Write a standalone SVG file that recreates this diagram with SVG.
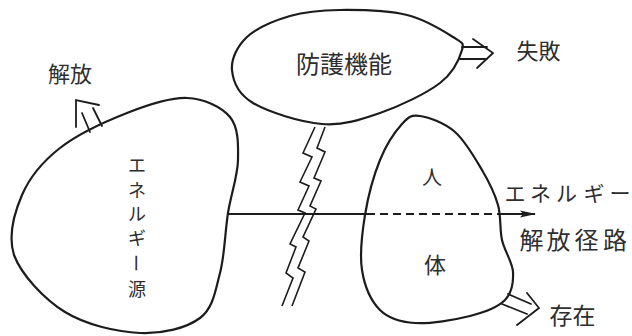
<svg xmlns="http://www.w3.org/2000/svg" width="632" height="336" viewBox="0 0 632 336">
<defs>
<style>
.blob{fill:none;stroke:#1c1c1c;stroke-width:2.2;stroke-linejoin:round}
.arr{fill:none;stroke:#1c1c1c;stroke-width:1.8;stroke-linecap:round;stroke-linejoin:miter}
.bolt{fill:none;stroke:#1c1c1c;stroke-width:1.6;stroke-linejoin:miter}
.ray{fill:none;stroke:#1c1c1c;stroke-width:2}
.t{font-family:"Noto Sans CJK JP","Noto Sans CJK SC",sans-serif;fill:#2e2e2e;text-anchor:middle;dominant-baseline:central}
</style>
<marker id="head" viewBox="0 0 16 10" refX="15" refY="5" markerWidth="16" markerHeight="10" markerUnits="userSpaceOnUse" orient="auto">
<path d="M0,1.5 L16,5 L0,8.5 L3,5 Z" fill="#1c1c1c"/>
</marker>
</defs>
<rect width="632" height="336" fill="#ffffff"/>

<g id="node-energy-source">
<path class="blob" d="M187,98 C204.2,98.7 221.5,106.7 230,117 C238.5,127.3 238.3,144 238,160 C237.7,176 231,194.2 228,213 C225,231.8 224.7,255.5 220,273 C215.3,290.5 213.3,308 200,318 C186.7,328 162.5,334 140,333 C117.5,332 86,325 65,312 C44,299 21.2,274.5 14,255 C8,236 14.3,212.8 22,195 C29.7,177.2 42.5,161.7 60,148 C77.5,134.3 105.8,121.3 127,113 C148.2,104.7 169.8,97.3 187,98 Z"/>
<text class="t" font-size="18"><tspan x="137" y="163.5">エ</tspan><tspan x="137" y="188.5">ネ</tspan><tspan x="137" y="212.5">ル</tspan><tspan x="137" y="237">ギ</tspan><tspan x="137" y="288">源</tspan></text>
<text class="t" font-size="18" x="137" y="263" transform="rotate(90 137 263)">ー</text>
</g>

<g id="node-defense">
<path class="blob" d="M340,10 C359.5,9.8 388.2,10.5 407,15 C425.8,19.5 443.8,31.2 453,37 C462.2,42.8 464.2,42.3 462,50 C459.8,57.7 453.7,72.5 440,83 C426.3,93.5 399.7,106.2 380,113 C360.3,119.8 343.2,125.7 322,124 C300.8,122.3 268,112 253,103 C238,94 233,81 232,70 C231,59 237.3,46 247,37 C256.7,28 274.5,20.5 290,16 C305.5,11.5 320.5,10.2 340,10 Z"/>
<text class="t" font-size="24" x="344" y="62.5">防護機能</text>
</g>

<g id="node-body">
<path class="blob" d="M420,116 C428.8,117.3 444.7,123 455,132 C465.3,141 474.8,157.8 482,170 C489.2,182.2 494.7,193.3 498,205 C501.3,216.7 499.5,228.8 502,240 C504.5,251.2 512.5,262 513,272 C513.5,282 512.2,292.7 505,300 C497.8,307.3 485,312.2 470,316 C455,319.8 430,324 415,323 C400,322 388.8,318.8 380,310 C371.2,301.2 364.5,285.8 362,270 C359.5,254.2 362,233.3 365,215 C368,196.7 373.8,175.2 380,160 C386.2,144.8 395.3,131.3 402,124 C408.7,116.7 411.2,114.7 420,116 Z"/>
<text class="t" font-size="20" x="432" y="176.5">人</text>
<text class="t" font-size="22" x="435" y="263">体</text>
</g>

<g id="label-release">
<text class="t" font-size="22" x="70" y="71.5">解放</text>
</g>
<g id="label-failure">
<text class="t" font-size="22" x="538.5" y="49">失敗</text>
</g>
<g id="label-exist">
<text class="t" font-size="23" x="572.5" y="314">存在</text>
</g>
<g id="label-path">
<text class="t" font-size="21" x="515 540.5 566.5 594 620" y="191.5">エネルギー</text>
<text class="t" font-size="24" x="531.5 558.5 586.5 615" y="238.5">解放径路</text>
</g>

<g id="connectors">
<path class="arr" d="M90,132 L82,113 M102,126 L93,108 M76,127 L76,100 L99,105"/>
<path class="arr" d="M462,47 L487,47 M460,59 L487,59 M473,39 L493,53 L477,68"/>
<path class="arr" d="M508,294 L531,304 M502,304 L527,314 M527,293 L539,308 L517,325"/>
<path class="ray" d="M228,214 L367,214"/>
<path class="ray" d="M367,214 L502,214" stroke-dasharray="8,5"/>
<path class="ray" d="M502,214 L535,214" marker-end="url(#head)"/>
<path class="bolt" d="M315,127 L303,153 L312,157 L300,182 L309,186 L298,210 L305,213 L290,244 L296,247 L286,273 L293,278 L282,306"/>
<path class="bolt" d="M325,127 L317,148 L325,152 L314,178 L321,181 L310,206 L316,209 L303,237 L309,241 L298,268 L305,272 L292,306"/>
</g>
</svg>
